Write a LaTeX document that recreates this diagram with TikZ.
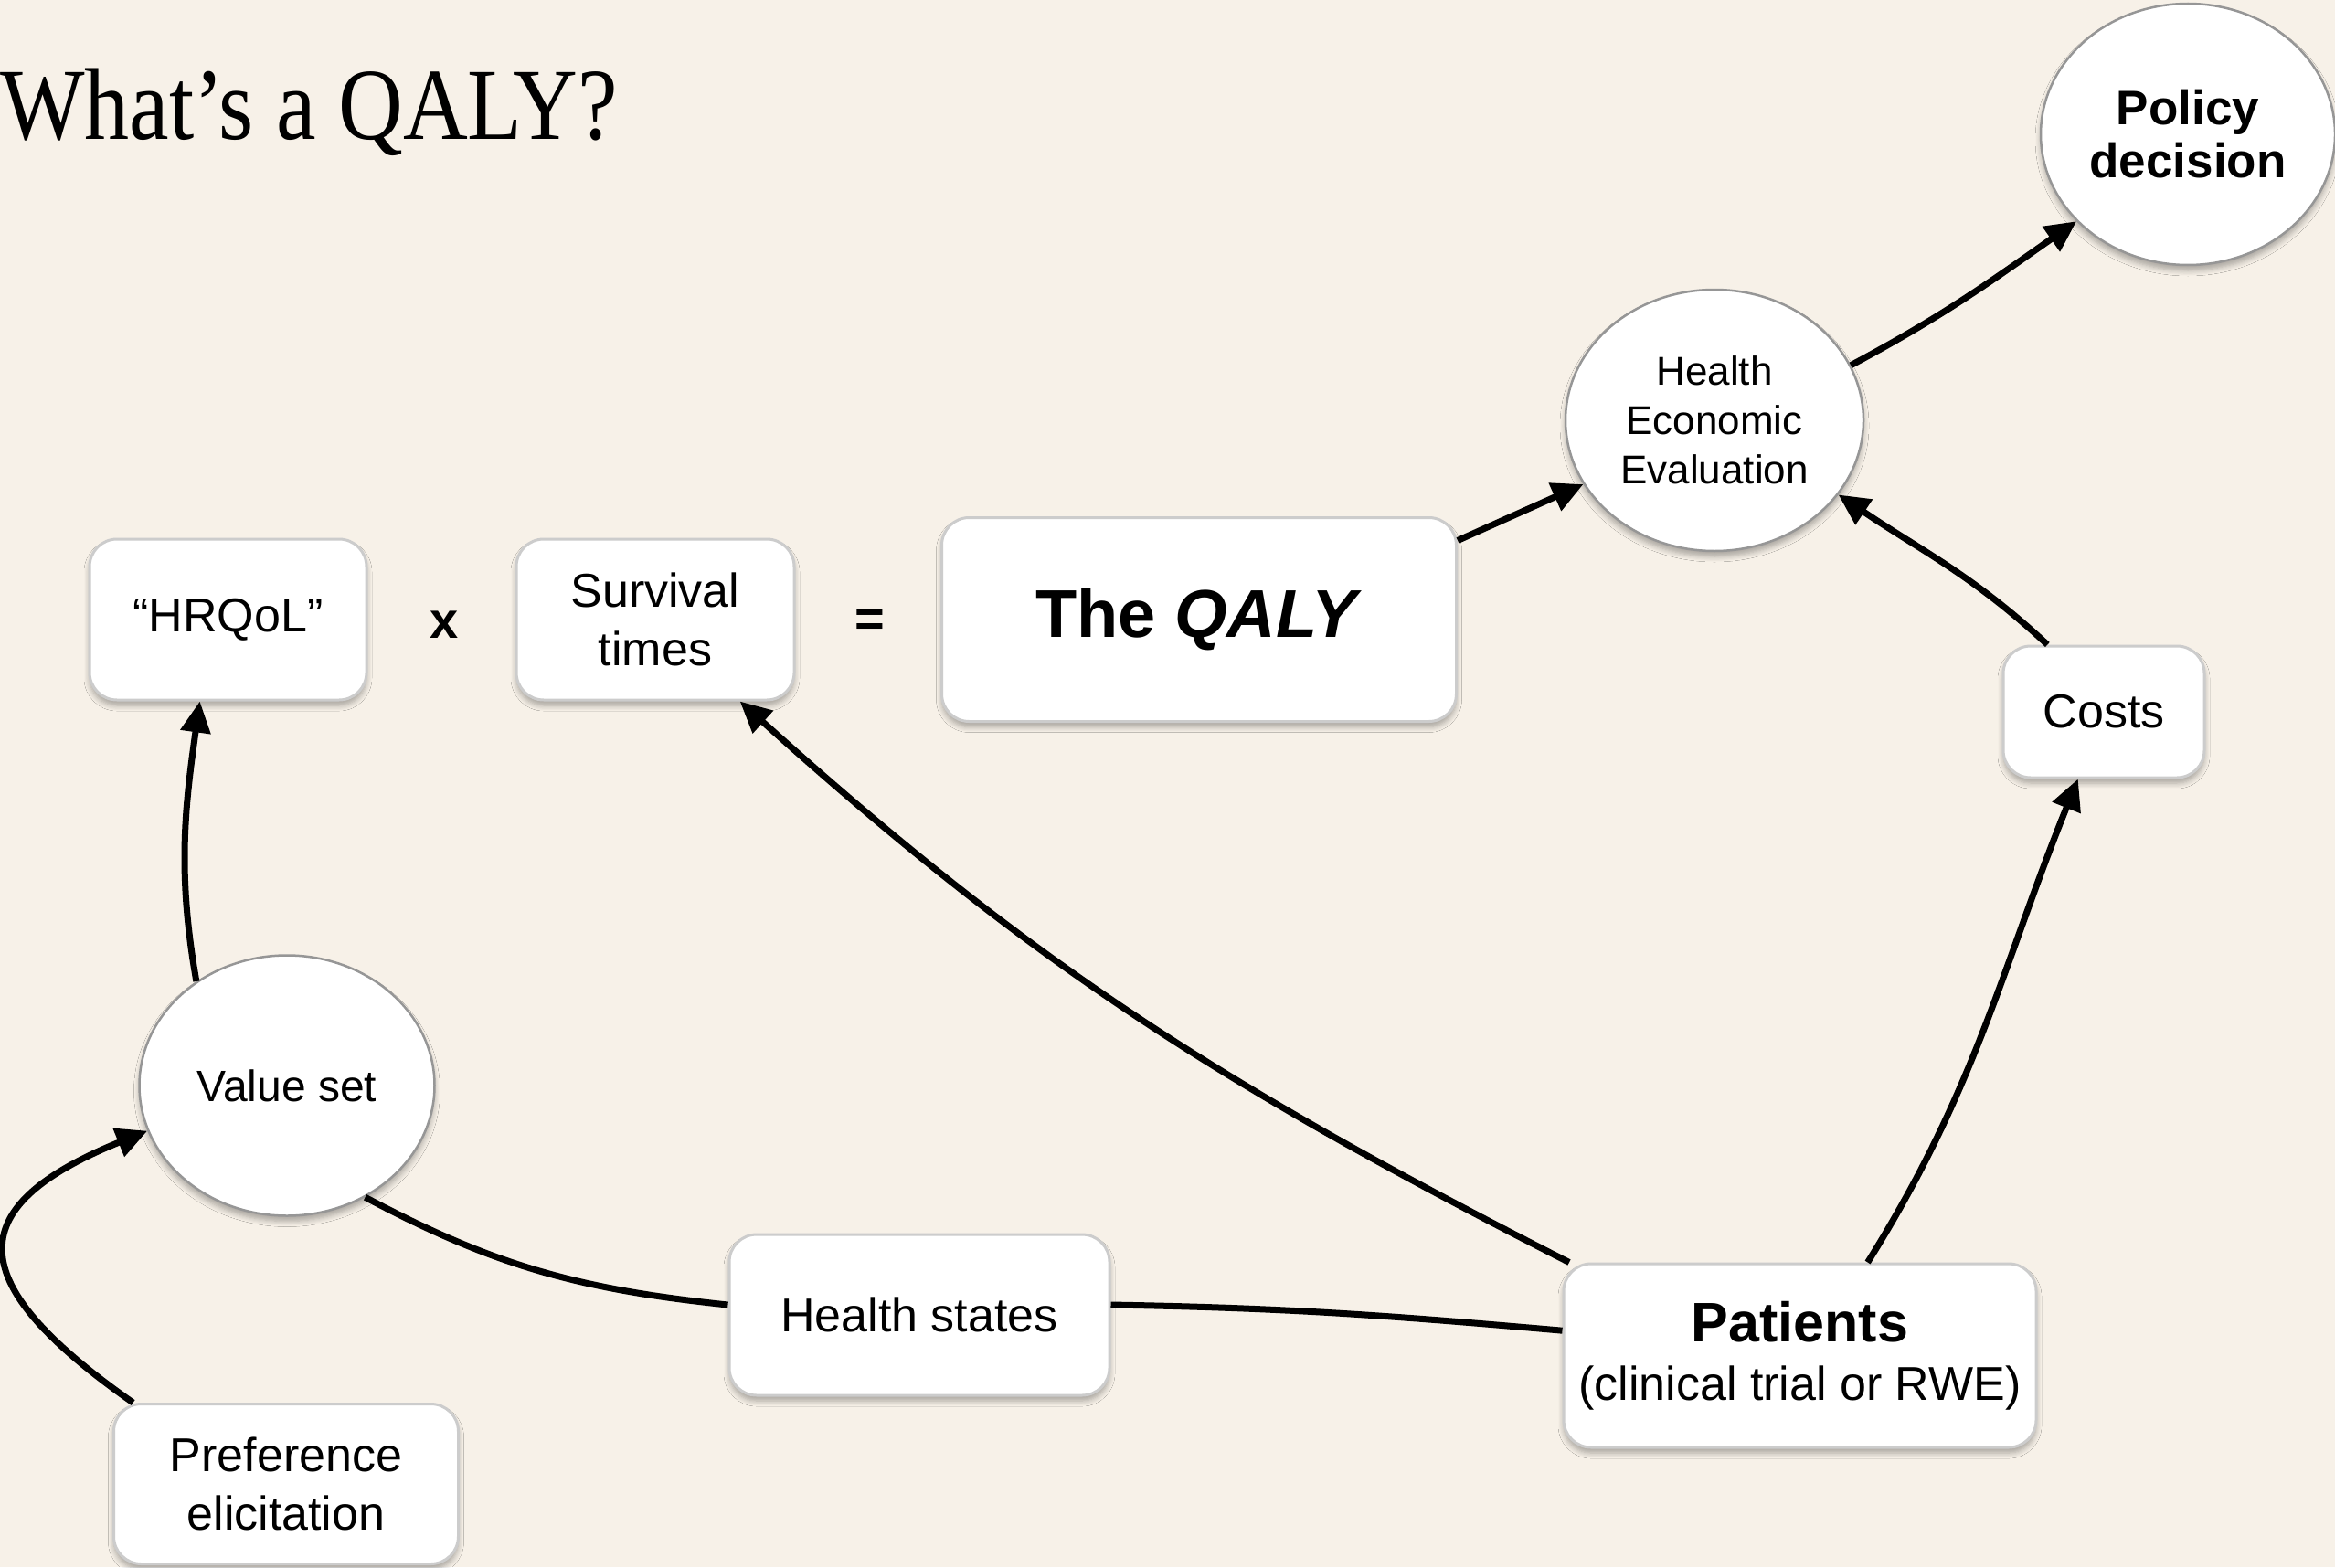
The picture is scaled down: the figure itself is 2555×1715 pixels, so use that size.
\documentclass[tikz,border=0pt]{standalone}
\usepackage{fontspec}
\setmainfont{Liberation Sans}
\newfontfamily\titlefont{Liberation Serif}
\usetikzlibrary{arrows.meta,shapes.geometric,shadows.blur}
\definecolor{paper}{RGB}{247,241,232}
\definecolor{boxline}{RGB}{204,204,204}
\definecolor{ovalline}{RGB}{150,150,150}
\begin{document}
\begin{tikzpicture}[x=1pt,y=1pt,
  softshadow/.style={blur shadow={shadow xshift=0pt,shadow yshift=-6pt,shadow blur radius=6pt,shadow blur steps=6,shadow opacity=32}},
  card/.style={draw=boxline,line width=3pt,fill=white,rounded corners=30pt,
    align=center,inner sep=0pt,softshadow},
  oval/.style={ellipse,draw=ovalline,line width=2.5pt,fill=white,
    align=center,inner sep=0pt,softshadow},
  body/.style={font=\fontsize{52}{64}\selectfont},
  link/.style={line width=7pt,black},
  arrow/.style={link,-{Triangle[length=34pt,width=32pt]}},
]
% canvas
\fill[paper] (0,0) rectangle (2555,-1715);
\useasboundingbox (0,0) rectangle (2555,-1715);

% heading
\node[anchor=base west,inner sep=0pt,font=\titlefont\fontsize{98}{110}\selectfont]
  (title) at (0,-153) {\scalebox{1}[1.14]{What’s a QALY?}};

% the formula row
\node[card,body,minimum width=303pt,minimum height=176pt] (hrqol) at (249.5,-678) {“HRQoL”};
\node[font=\bfseries\fontsize{56}{60}\selectfont] (times) at (486,-684) {x};
\node[card,body,minimum width=304pt,minimum height=176pt] (surv) at (717,-678) {Survival\\times};
\node[font=\bfseries\fontsize{56}{60}\selectfont] (equals) at (952,-682) {=};
\node[card,minimum width=563pt,minimum height=223pt,
  font=\bfseries\fontsize{74}{80}\selectfont] (qaly) at (1312,-678) {The \textit{QALY}};

% evaluation and decision
\node[oval,minimum width=326pt,minimum height=286pt,font=\fontsize{44}{54}\selectfont]
  (hee) at (1876,-460) {Health\\Economic\\Evaluation};
\node[oval,minimum width=322pt,minimum height=286pt,font=\bfseries\fontsize{53}{58}\selectfont]
  (policy) at (2394,-147) {Policy\\decision};
\node[card,body,minimum width=220pt,minimum height=144pt] (costs) at (2302,-779) {Costs};

% data sources
\node[oval,font=\fontsize{48}{58}\selectfont,minimum width=323pt,minimum height=285pt]
  (vs) at (314,-1188) {Value set};
\node[card,body,minimum width=377pt,minimum height=175pt] (pref) at (313,-1624) {Preference\\elicitation};
\node[card,body,minimum width=416pt,minimum height=176pt] (hs) at (1006,-1439) {Health states};
\node[card,minimum width=517pt,minimum height=201pt,font=\fontsize{52}{64}\selectfont]
  (pat) at (1969.5,-1483.5) {{\bfseries\fontsize{61}{64}\selectfont Patients}\\(clinical trial or RWE)};

% connectors
\draw[arrow] (vs.131) to[out=100,in=-98] (hrqol.-109);
\draw[arrow] (pref.152) to[out=145,in=-158,distance=225pt] (vs.198);
\draw[link] (vs.-55) to[out=-28,in=174] (hs.177);
\draw[link] (hs.3) to[out=-1,in=175] (pat.174);
\draw[arrow] (pat.158) to[out=153,in=-42] (surv.-44);
\draw[arrow] (pat.54) to[out=58,in=-112] (costs.-111);
\draw[arrow] (costs.130) to[out=137,in=-34] (hee.-31);
\draw[arrow] (qaly.17) -- (hee.206);
\draw[arrow] (hee.22) to[out=28,in=-145] (policy.218);
\end{tikzpicture}
\end{document}
